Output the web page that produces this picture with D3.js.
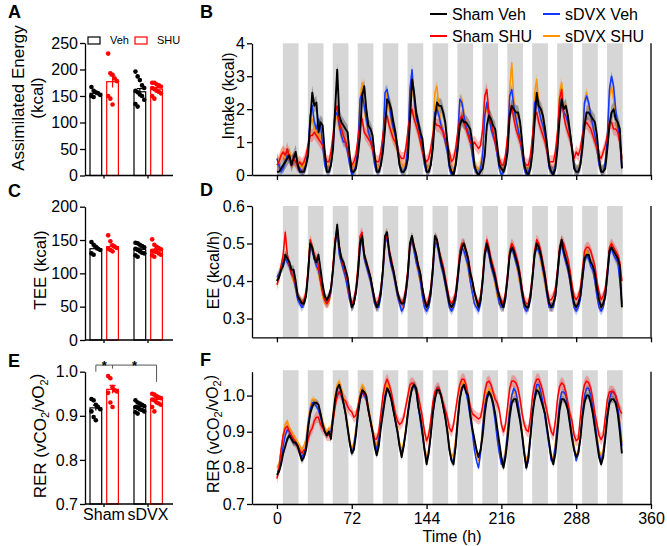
<!DOCTYPE html>
<html><head><meta charset="utf-8">
<script src="https://cdn.jsdelivr.net/npm/d3@7"></script>
<style>body{margin:0;background:#fff}svg{font-family:Arial,"Liberation Sans",Helvetica,sans-serif}</style>
</head><body><svg id="c" width="667" height="546"></svg>
<script>
// ---------- bar chart data ----------
const groups = ["Sham", "sDVX"];
const treatments = ["Veh", "SHU"];
const aeMean = [155, 177, 158, 163];
const aeSem = [3, 11, 6, 3];
const aeShamVeh = [167, 160, 157, 155, 152, 150, 148];
const aeShamSHU = [230, 193, 190, 183, 178, 150, 145, 134];
const aeSdvxVeh = [196, 187, 180, 170, 165, 160, 157, 153, 150, 143, 135, 130];
const aeSdvxSHU = [175, 175, 172, 170, 168, 165, 163, 160, 158, 155, 150, 145];
const teeMean = [137, 140, 136, 135];
const teeSem = [2.5, 2.5, 2, 2];
const teeShamVeh = [147, 143, 140, 137, 135, 130, 128];
const teeShamSHU = [157, 148, 142, 140, 138, 137, 135, 133];
const teeSdvxVeh = [146, 145, 143, 141, 139, 137, 135, 133, 131, 130, 127, 125];
const teeSdvxSHU = [151, 143, 140, 138, 136, 134, 133, 132, 130, 128, 127, 125];
const rerMean = [0.918, 0.960, 0.921, 0.937];
const rerSem = [0.006, 0.009, 0.003, 0.004];
const rerShamVeh = [0.938, 0.935, 0.925, 0.92, 0.915, 0.91, 0.897, 0.89];
const rerShamSHU = [0.99, 0.985, 0.965, 0.958, 0.955, 0.952, 0.93, 0.92];
const rerSdvxVeh = [0.935, 0.93, 0.928, 0.925, 0.922, 0.92, 0.918, 0.915, 0.913, 0.91, 0.908, 0.905];
const rerSdvxSHU = [0.95, 0.948, 0.945, 0.942, 0.94, 0.937, 0.935, 0.93, 0.928, 0.925, 0.92, 0.91];
const aeTicks = [0, 50, 100, 150, 200, 250];
const teeTicks = [0, 50, 100, 150, 200];
const rerTicks = [0.7, 0.8, 0.9, 1.0];

// ---------- time series data (every 2 h, 0..332 h) ----------
const seriesNames = ["Sham Veh", "Sham SHU", "sDVX Veh", "sDVX SHU"];
const seriesColors = ["#000000", "#ff0000", "#1238ff", "#ff9500"];
const hours = d3.range(0, 333, 2);
const darkPeriods = [[5.7,20.8],[29.7,44.8],[53.7,68.8],[77.7,92.8],[101.7,116.8],[125.7,140.8],[149.7,164.8],[173.7,188.8],[197.7,212.8],[221.7,236.8],[245.7,260.8],[269.7,284.8],[293.7,308.8],[317.7,332.8]];
const timeTicks = [0, 72, 144, 216, 288, 360];
const intakeTicks = [0, 1, 2, 3, 4];
const eeTicks = [0.3, 0.4, 0.5, 0.6];
const rerTimeTicks = [0.7, 0.8, 0.9, 1.0];

const intakeShamVeh = [0.1,0.1,0.2,0.3,0.4,0.5,0.6,0.3,0.5,0.7,0.3,0.1, 0.1,0.1,0.3,0.6,1.6,2.5,2.1,2.2,1.3,1.6,1.5,0.7, 0.1,0.1,0.3,0.8,2.0,3.2,1.8,1.6,1.5,1.4,1.3,0.6, 0.1,0.1,0.2,0.6,1.2,2.4,2.7,2.0,1.5,1.4,1.2,0.6, 0.1,0.1,0.3,0.7,1.4,2.3,2.2,2.0,1.6,1.3,0.8,0.3, 0.1,0.1,0.2,0.5,1.6,2.9,2.5,1.9,1.6,1.3,1.1,0.5, 0.1,0.1,0.3,0.8,1.7,2.2,2.1,2.1,1.9,1.6,1.0,0.3, 0.1,0.0,0.3,0.8,1.5,1.7,1.6,1.6,1.5,1.4,1.0,0.3, 0.1,0.0,0.1,0.2,0.6,1.5,1.8,1.7,1.5,1.4,0.9,0.3, 0.2,0.1,0.3,0.7,1.8,2.1,2.0,1.9,1.9,1.6,1.0,0.3, 0.1,0.0,0.2,0.7,1.6,2.5,2.1,2.0,1.8,1.4,0.9,0.3, 0.1,0.0,0.2,0.8,1.7,2.3,2.0,2.1,1.8,1.3,0.8,0.2, 0.1,0.1,0.3,0.8,1.5,1.9,1.9,1.8,1.7,1.6,1.2,0.5, 0.1,0.1,0.2,0.8,1.5,1.9,2.0,1.7,1.6,1.4,0.2];
const intakeShamSHU = [0.3,0.4,0.6,0.7,0.6,0.8,0.5,0.4,0.5,0.4,0.3,0.4, 0.3,0.4,0.6,0.9,1.2,1.2,1.3,1.2,1.1,1.0,0.9,0.6, 0.4,0.4,0.7,1.2,1.9,2.1,1.6,1.4,1.2,1.0,0.8,0.5, 0.3,0.4,0.6,1.1,1.6,1.7,1.3,1.2,1.1,1.0,0.8,0.5, 0.4,0.4,0.7,1.2,1.7,1.8,1.5,1.3,1.1,1.0,0.8,0.6, 0.5,0.5,0.8,1.3,1.8,2.0,1.7,1.5,1.3,1.0,0.7,0.5, 0.4,0.5,0.8,1.2,1.6,1.5,1.5,1.4,1.3,1.1,0.9,0.7, 0.4,0.5,0.8,1.3,1.7,1.8,1.6,1.4,1.2,1.0,0.9,1.0, 0.9,0.8,0.9,1.4,2.4,2.6,1.9,1.6,1.3,1.0,0.7,0.5, 0.3,0.3,0.6,1.2,1.9,2.1,1.7,1.4,1.2,1.0,0.8,0.4, 0.3,0.3,0.6,1.2,1.8,1.9,1.6,1.4,1.2,1.0,0.7,0.4, 0.4,0.4,0.7,1.3,2.3,2.6,1.8,1.5,1.3,1.1,0.8,0.5, 0.7,0.6,0.8,1.2,1.5,1.6,1.5,1.4,1.2,1.0,0.8,0.6, 0.5,0.7,0.9,1.2,1.6,1.6,1.4,1.4,1.3,1.0,0.5];
const intakeSdvxVeh = [0.5,0.3,0.1,0.2,0.4,0.6,0.5,0.4,0.5,0.4,0.3,0.2, 0.1,0.1,0.3,0.8,1.8,2.1,1.6,1.4,1.7,1.5,0.9,0.3, 0.1,0.1,0.3,0.9,1.8,1.9,1.5,1.2,1.0,1.0,0.7,0.3, 0.0,0.1,0.3,0.9,2.3,2.5,2.1,1.7,1.3,1.1,0.8,0.3, 0.1,0.1,0.3,1.0,2.5,2.6,2.2,1.7,1.4,1.2,0.9,0.3, 0.1,0.1,0.3,0.9,2.6,3.2,2.4,1.7,1.5,1.2,0.8,0.3, 0.1,0.1,0.3,0.9,1.9,2.0,1.8,1.5,1.3,1.0,0.7,0.2, 0.0,0.1,0.3,1.2,2.3,2.2,1.8,1.5,1.3,1.1,0.6,0.2, 0.1,0.0,0.2,0.6,1.8,2.2,1.8,1.4,1.2,1.0,0.6,0.2, 0.0,0.1,0.3,1.0,2.4,2.6,2.1,1.7,1.4,1.1,0.6,0.2, 0.0,0.1,0.3,1.0,2.2,2.3,2.0,1.7,1.5,1.2,0.7,0.2, 0.1,0.1,0.3,1.0,2.1,2.2,1.9,1.8,1.6,1.3,0.8,0.3, 0.1,0.1,0.3,1.0,2.2,2.4,2.2,1.8,1.5,1.2,0.8,0.3, 0.1,0.1,0.4,1.2,2.6,3.0,2.7,2.0,1.5,1.0,0.2];
const intakeSdvxSHU = [0.5,0.4,0.6,0.7,0.5,0.6,0.7,0.5,0.4,0.5,0.4,0.3, 0.2,0.3,0.4,0.8,1.5,1.7,1.4,1.3,1.2,1.2,0.9,0.5, 0.3,0.3,0.4,1.0,1.8,1.7,1.4,1.2,1.1,1.0,0.8,0.5, 0.2,0.2,0.4,1.0,2.3,2.8,2.0,1.6,1.3,1.1,0.8,0.4, 0.3,0.2,0.4,1.0,2.2,2.5,2.0,1.6,1.2,1.0,0.8,0.4, 0.3,0.2,0.4,1.0,2.4,2.9,2.1,1.6,1.3,1.1,0.8,0.4, 0.2,0.2,0.4,1.1,2.5,2.7,2.0,1.6,1.3,1.0,0.7,0.3, 0.2,0.1,0.4,1.0,2.2,2.3,1.9,1.6,1.3,1.0,0.7,0.3, 0.2,0.2,0.3,0.8,1.8,2.0,1.8,1.6,1.3,1.1,0.7,0.3, 0.1,0.1,0.4,1.1,2.6,3.4,2.3,1.8,1.5,1.2,0.8,0.3, 0.1,0.1,0.4,1.1,2.5,2.9,2.2,1.8,1.5,1.2,0.8,0.3, 0.1,0.1,0.4,1.1,2.5,2.8,2.1,1.9,1.6,1.3,0.8,0.3, 0.1,0.1,0.4,1.0,2.2,2.5,2.1,1.8,1.5,1.2,0.8,0.3, 0.1,0.1,0.4,1.1,2.4,2.7,2.3,1.8,1.4,1.0,0.3];

const eeShamVeh = [0.40,0.41,0.43,0.44,0.47,0.46,0.45,0.43,0.43,0.40,0.36,0.35, 0.34,0.34,0.36,0.42,0.50,0.49,0.46,0.45,0.47,0.43,0.39,0.36, 0.35,0.36,0.38,0.43,0.50,0.55,0.49,0.46,0.45,0.43,0.41,0.37, 0.33,0.34,0.37,0.42,0.50,0.52,0.47,0.45,0.43,0.41,0.38,0.35, 0.33,0.34,0.37,0.43,0.52,0.53,0.48,0.45,0.43,0.40,0.37,0.35, 0.34,0.34,0.37,0.42,0.50,0.52,0.49,0.47,0.44,0.42,0.38,0.35, 0.33,0.34,0.37,0.43,0.52,0.51,0.48,0.45,0.43,0.40,0.37,0.34, 0.33,0.34,0.36,0.41,0.46,0.49,0.50,0.48,0.46,0.42,0.40,0.37, 0.35,0.33,0.35,0.40,0.47,0.50,0.48,0.45,0.43,0.41,0.38,0.36, 0.34,0.33,0.36,0.41,0.47,0.49,0.48,0.46,0.44,0.41,0.37,0.34, 0.33,0.33,0.36,0.41,0.47,0.50,0.49,0.47,0.44,0.41,0.37,0.34, 0.33,0.34,0.36,0.42,0.48,0.51,0.48,0.46,0.44,0.41,0.37,0.34, 0.33,0.34,0.36,0.41,0.46,0.47,0.47,0.45,0.44,0.42,0.38,0.35, 0.33,0.34,0.36,0.42,0.48,0.49,0.48,0.47,0.46,0.44,0.33];
const eeShamSHU = [0.39,0.41,0.44,0.47,0.53,0.47,0.44,0.42,0.41,0.39,0.36,0.35, 0.34,0.35,0.37,0.43,0.51,0.49,0.47,0.46,0.44,0.40,0.37,0.35, 0.34,0.35,0.38,0.44,0.51,0.54,0.49,0.46,0.44,0.42,0.40,0.36, 0.34,0.35,0.38,0.44,0.52,0.53,0.47,0.45,0.43,0.41,0.38,0.35, 0.34,0.35,0.38,0.43,0.51,0.52,0.48,0.46,0.43,0.40,0.37,0.35, 0.34,0.35,0.38,0.43,0.50,0.51,0.49,0.47,0.44,0.42,0.38,0.35, 0.34,0.35,0.38,0.44,0.51,0.51,0.48,0.46,0.44,0.41,0.38,0.35, 0.34,0.35,0.37,0.42,0.48,0.50,0.50,0.48,0.46,0.43,0.40,0.37, 0.35,0.34,0.36,0.41,0.48,0.51,0.49,0.46,0.44,0.42,0.39,0.36, 0.35,0.34,0.37,0.42,0.48,0.50,0.49,0.47,0.45,0.42,0.38,0.35, 0.34,0.34,0.37,0.42,0.48,0.51,0.50,0.48,0.45,0.42,0.38,0.35, 0.35,0.36,0.38,0.43,0.49,0.51,0.50,0.48,0.46,0.43,0.39,0.36, 0.35,0.36,0.38,0.43,0.48,0.49,0.49,0.48,0.46,0.44,0.40,0.37, 0.35,0.36,0.38,0.43,0.49,0.50,0.49,0.48,0.47,0.45,0.40];
const eeSdvxVeh = [0.41,0.42,0.43,0.45,0.46,0.45,0.44,0.42,0.41,0.38,0.35,0.34, 0.33,0.34,0.36,0.42,0.50,0.48,0.46,0.44,0.43,0.40,0.37,0.35, 0.34,0.35,0.37,0.43,0.50,0.53,0.47,0.45,0.43,0.41,0.38,0.35, 0.33,0.34,0.37,0.42,0.49,0.51,0.46,0.44,0.42,0.40,0.37,0.34, 0.33,0.33,0.36,0.42,0.50,0.52,0.47,0.44,0.42,0.39,0.36,0.34, 0.32,0.33,0.36,0.41,0.49,0.51,0.48,0.45,0.43,0.40,0.36,0.33, 0.32,0.33,0.36,0.42,0.50,0.50,0.47,0.44,0.42,0.39,0.36,0.33, 0.32,0.33,0.35,0.40,0.46,0.49,0.48,0.46,0.44,0.40,0.37,0.34, 0.33,0.32,0.34,0.40,0.47,0.49,0.47,0.44,0.42,0.40,0.37,0.34, 0.33,0.33,0.35,0.41,0.47,0.49,0.47,0.45,0.43,0.40,0.36,0.33, 0.32,0.33,0.35,0.41,0.47,0.49,0.48,0.46,0.43,0.40,0.36,0.33, 0.33,0.33,0.36,0.41,0.47,0.50,0.47,0.45,0.43,0.40,0.36,0.33, 0.32,0.33,0.35,0.40,0.45,0.47,0.46,0.44,0.43,0.40,0.36,0.33, 0.32,0.33,0.36,0.41,0.47,0.49,0.47,0.46,0.45,0.40,0.34];
const eeSdvxSHU = [0.40,0.42,0.44,0.45,0.47,0.46,0.44,0.42,0.40,0.38,0.36,0.35, 0.34,0.34,0.36,0.43,0.51,0.49,0.46,0.44,0.42,0.39,0.36,0.34, 0.34,0.34,0.37,0.44,0.51,0.54,0.48,0.45,0.43,0.41,0.38,0.35, 0.33,0.34,0.37,0.43,0.50,0.52,0.46,0.44,0.42,0.40,0.37,0.34, 0.33,0.34,0.37,0.43,0.51,0.53,0.47,0.44,0.42,0.39,0.36,0.34, 0.33,0.33,0.36,0.42,0.50,0.51,0.48,0.45,0.42,0.40,0.36,0.33, 0.33,0.33,0.36,0.43,0.51,0.51,0.47,0.44,0.42,0.39,0.36,0.33, 0.33,0.33,0.35,0.41,0.47,0.50,0.48,0.46,0.43,0.40,0.37,0.34, 0.34,0.33,0.35,0.41,0.48,0.50,0.47,0.44,0.42,0.39,0.36,0.34, 0.33,0.33,0.35,0.41,0.48,0.50,0.47,0.45,0.42,0.39,0.36,0.33, 0.33,0.33,0.35,0.41,0.48,0.50,0.48,0.45,0.42,0.39,0.36,0.33, 0.33,0.33,0.36,0.42,0.48,0.51,0.48,0.45,0.43,0.40,0.36,0.33, 0.33,0.33,0.36,0.41,0.46,0.48,0.47,0.45,0.43,0.40,0.36,0.33, 0.33,0.33,0.36,0.42,0.48,0.50,0.48,0.46,0.45,0.41,0.33];

const rerShamVehT = [0.78,0.79,0.81,0.84,0.86,0.88,0.89,0.88,0.87,0.87,0.86,0.84, 0.82,0.83,0.85,0.91,0.95,0.97,0.98,0.98,0.975,0.95,0.92,0.90, 0.89,0.90,0.88,0.94,0.99,1.02,1.03,1.01,0.98,0.95,0.91,0.87, 0.84,0.85,0.89,0.95,0.99,1.015,1.01,1.0,0.96,0.93,0.90,0.86, 0.835,0.86,0.91,0.95,0.99,1.02,1.01,0.99,0.96,0.93,0.90,0.86, 0.83,0.86,0.90,0.95,0.99,1.02,1.03,1.02,0.97,0.94,0.90,0.85, 0.81,0.84,0.89,0.95,0.99,1.015,1.015,1.0,0.97,0.94,0.90,0.85, 0.82,0.81,0.86,0.93,0.99,1.02,1.03,1.01,1.0,0.95,0.91,0.88, 0.85,0.83,0.85,0.89,0.95,0.99,1.01,1.0,0.98,0.95,0.91,0.87, 0.83,0.80,0.83,0.88,0.94,0.98,0.99,0.99,0.96,0.93,0.89,0.84, 0.80,0.83,0.89,0.95,0.99,1.015,1.01,0.99,0.97,0.95,0.91,0.87, 0.83,0.81,0.84,0.90,0.96,0.99,0.99,0.98,0.96,0.92,0.88,0.85, 0.83,0.84,0.88,0.94,0.98,1.0,1.0,0.98,0.95,0.91,0.87,0.83, 0.81,0.83,0.88,0.94,0.98,0.99,0.99,0.98,0.95,0.90,0.84];
const rerShamSHUT = [0.77,0.80,0.85,0.89,0.91,0.915,0.90,0.89,0.88,0.87,0.86,0.85, 0.84,0.85,0.85,0.88,0.90,0.91,0.93,0.94,0.94,0.92,0.91,0.90, 0.89,0.89,0.89,0.93,0.97,1.0,1.01,1.0,0.99,0.985,0.97,0.96, 0.955,0.94,0.945,0.97,1.0,1.01,1.01,0.99,0.96,0.93,0.90,0.88, 0.88,0.90,0.95,1.0,1.03,1.045,1.03,1.01,0.98,0.95,0.93,0.92, 0.925,0.94,0.97,1.0,1.03,1.035,1.03,1.02,1.0,0.97,0.94,0.90, 0.875,0.89,0.93,0.98,1.01,1.02,1.02,1.0,0.98,0.96,0.94,0.91, 0.90,0.92,0.96,1.0,1.03,1.045,1.045,1.03,1.0,0.97,0.95,0.945, 0.94,0.935,0.94,0.97,1.01,1.035,1.04,1.03,1.01,0.99,0.98,0.96, 0.92,0.90,0.92,0.97,1.02,1.04,1.04,1.035,1.02,0.99,0.95,0.92, 0.905,0.90,0.94,1.0,1.03,1.045,1.045,1.03,1.01,0.98,0.955,0.925, 0.90,0.89,0.93,0.99,1.025,1.035,1.03,1.01,0.98,0.95,0.93,0.89, 0.875,0.88,0.94,1.0,1.03,1.04,1.035,1.02,0.99,0.95,0.92,0.89, 0.878,0.89,0.94,0.99,1.01,1.012,1.01,1.0,0.98,0.96,0.95];
const rerSdvxVehT = [0.79,0.79,0.82,0.86,0.89,0.905,0.90,0.88,0.87,0.87,0.86,0.84, 0.83,0.84,0.86,0.92,0.96,0.98,0.98,0.97,0.96,0.94,0.92,0.90, 0.89,0.90,0.90,0.94,0.98,1.0,1.01,1.0,0.98,0.95,0.91,0.87, 0.84,0.86,0.90,0.95,0.99,1.01,1.0,0.99,0.96,0.93,0.90,0.87, 0.85,0.88,0.92,0.96,1.0,1.02,1.01,0.99,0.96,0.93,0.90,0.86, 0.84,0.86,0.90,0.95,0.99,1.02,1.03,1.01,0.97,0.93,0.89,0.85, 0.82,0.84,0.89,0.95,0.99,1.02,1.02,1.0,0.97,0.94,0.90,0.85, 0.82,0.82,0.86,0.93,0.99,1.02,1.03,1.01,0.98,0.94,0.90,0.85, 0.82,0.80,0.84,0.91,0.97,1.0,1.01,1.0,0.97,0.93,0.88,0.84, 0.81,0.81,0.84,0.90,0.96,1.0,1.02,1.01,0.98,0.94,0.89,0.84, 0.80,0.82,0.88,0.95,1.0,1.03,1.03,1.01,0.98,0.94,0.90,0.86, 0.82,0.82,0.86,0.92,0.98,1.01,1.01,1.0,0.97,0.93,0.89,0.85, 0.82,0.84,0.88,0.95,1.0,1.02,1.02,1.0,0.97,0.93,0.88,0.84, 0.82,0.84,0.89,0.95,0.99,1.01,1.01,1.0,0.97,0.92,0.86];
const rerSdvxSHUT = [0.80,0.81,0.85,0.89,0.92,0.93,0.91,0.90,0.89,0.88,0.87,0.86, 0.85,0.86,0.88,0.93,0.97,0.99,0.99,0.98,0.97,0.95,0.93,0.91, 0.90,0.91,0.91,0.95,1.0,1.03,1.04,1.02,1.0,0.96,0.92,0.88, 0.85,0.87,0.91,0.96,1.01,1.03,1.02,1.0,0.97,0.94,0.91,0.88, 0.86,0.89,0.93,0.97,1.01,1.03,1.02,1.0,0.97,0.94,0.91,0.87, 0.85,0.87,0.91,0.96,1.0,1.03,1.03,1.01,0.97,0.94,0.90,0.86, 0.83,0.85,0.90,0.96,1.0,1.02,1.02,1.0,0.97,0.94,0.91,0.86, 0.83,0.84,0.88,0.95,1.0,1.03,1.04,1.02,0.99,0.95,0.91,0.87, 0.84,0.82,0.85,0.92,0.98,1.01,1.02,1.01,0.98,0.94,0.89,0.85, 0.82,0.82,0.85,0.91,0.97,1.0,1.01,1.0,0.98,0.94,0.90,0.85, 0.82,0.84,0.89,0.96,1.0,1.02,1.02,1.0,0.98,0.95,0.91,0.87, 0.83,0.83,0.87,0.93,0.98,1.01,1.01,1.0,0.97,0.94,0.90,0.86, 0.83,0.85,0.89,0.95,1.0,1.02,1.02,1.0,0.97,0.93,0.89,0.85, 0.83,0.85,0.90,0.95,0.99,1.01,1.01,1.0,0.97,0.93,0.87];

const semIntake = [0.22, 0.2, 0.16, 0.2];
const semEE = [0.012, 0.014, 0.012, 0.012];
const semRER = [0.01, 0.016, 0.008, 0.008];

// ---------- drawing ----------
const svg = d3.select("#c");
const FONT = 16;

function styleAxis(sel, size) {
  sel.attr("font-family", "Arial, 'Liberation Sans', sans-serif").attr("font-size", size);
  sel.selectAll("path,line").attr("stroke", "#000").attr("stroke-width", 1.3);
  sel.selectAll("text").attr("fill", "#000");
}

function panelLetter(t, x, y) {
  svg.append("text").attr("x", x).attr("y", y).attr("font-size", 18).attr("font-weight", "bold").text(t);
}

function barPanel(cfg) {
  const y = d3.scaleLinear().domain(cfg.domain).range(cfg.range);
  const gx = d3.scaleBand().domain(groups).range([82, 170]);
  const tx = d3.scaleBand().domain(treatments).range([8, 36.4]).paddingInner(0.3);
  const g = svg.append("g");
  const bw = tx.bandwidth();
  cfg.points.forEach((pts, i) => {
    const grp = groups[Math.floor(i / 2)], tr = treatments[i % 2];
    const col = tr === "Veh" ? "#000" : "#ff0000";
    const x0 = gx(grp) + tx(tr);
    const cx = x0 + bw / 2;
    g.append("rect").attr("x", x0).attr("y", y(cfg.means[i])).attr("width", bw)
      .attr("height", y(cfg.domain[0]) - y(cfg.means[i]))
      .attr("fill", "#fff").attr("stroke", col).attr("stroke-width", 1.2);
    g.selectAll(null).data(pts).join("circle")
      .attr("cx", (d, j) => cx + ((j % 5) - 2) * 2.2)
      .attr("cy", d => y(d)).attr("r", 2.3).attr("fill", col);
    const lo = y(cfg.means[i] - cfg.sems[i]), hi = y(cfg.means[i] + cfg.sems[i]);
    g.append("line").attr("x1", cx).attr("x2", cx).attr("y1", lo).attr("y2", hi).attr("stroke", col).attr("stroke-width", 1.2);
    g.append("line").attr("x1", cx - 3).attr("x2", cx + 3).attr("y1", hi).attr("y2", hi).attr("stroke", col).attr("stroke-width", 1.2);
  });
  const ya = g.append("g").attr("transform", "translate(85,0)")
    .call(d3.axisLeft(y).tickValues(cfg.ticks).tickSize(5).tickPadding(2).tickSizeOuter(0).tickFormat(cfg.fmt));
  styleAxis(ya, FONT);
  const xa = g.append("g").attr("transform", `translate(0,${cfg.range[0]})`)
    .call(d3.axisBottom(gx).tickSize(3).tickPadding(2).tickFormat(cfg.xLabels ? (d => d) : ""));
  xa.select(".domain").remove();
  styleAxis(xa, 16);
  g.append("line").attr("x1", 85).attr("x2", 173).attr("y1", cfg.range[0]).attr("y2", cfg.range[0])
    .attr("stroke", "#000").attr("stroke-width", 1.3);
  return {g, y, gx, tx};
}

// Panel A
panelLetter("A", 8, 18);
barPanel({domain: [0, 250], range: [175.5, 43], ticks: aeTicks, fmt: d3.format("d"),
  means: aeMean, sems: aeSem, points: [aeShamVeh, aeShamSHU, aeSdvxVeh, aeSdvxSHU], xLabels: false});
svg.append("text").attr("transform", "translate(24,98) rotate(-90)").attr("text-anchor", "middle").attr("font-size", 17).text("Assimilated Energy");
svg.append("text").attr("transform", "translate(43,98) rotate(-90)").attr("text-anchor", "middle").attr("font-size", 17).text("(kcal)");
// A legend
[["Veh", "#000", 88, 110], ["SHU", "#ff0000", 135, 157]].forEach(([lab, col, bx, tx]) => {
  svg.append("rect").attr("x", bx).attr("y", 37).attr("width", 12).attr("height", 7).attr("fill", "#fff").attr("stroke", col).attr("stroke-width", 1.2);
  svg.append("text").attr("x", tx).attr("y", 44).attr("font-size", 11).text(lab);
});

// Panel C
panelLetter("C", 8, 197);
barPanel({domain: [0, 200], range: [340, 206.7], ticks: teeTicks, fmt: d3.format("d"),
  means: teeMean, sems: teeSem, points: [teeShamVeh, teeShamSHU, teeSdvxVeh, teeSdvxSHU], xLabels: false});
svg.append("text").attr("transform", "translate(46,270) rotate(-90)").attr("text-anchor", "middle").attr("font-size", 17).text("TEE (kcal)");

// Panel E
panelLetter("E", 8, 367);
const E = barPanel({domain: [0.7, 1.0], range: [504, 371.7], ticks: rerTicks, fmt: d3.format(".1f"),
  means: rerMean, sems: rerSem, points: [rerShamVeh, rerShamSHU, rerSdvxVeh, rerSdvxSHU], xLabels: true});
function rerSub(sel) {
  sel.append("tspan").text("RER (vCO");
  sel.append("tspan").attr("font-size", 11).attr("dy", "0.3em").text("2");
  sel.append("tspan").attr("dy", "-0.3em").text("/vO");
  sel.append("tspan").attr("font-size", 11).attr("dy", "0.3em").text("2");
  sel.append("tspan").attr("dy", "-0.3em").text(")");
}
rerSub(svg.append("text").attr("transform", "translate(46,436) rotate(-90)").attr("text-anchor", "middle").attr("font-size", 17));
// significance bracket
{
  const cxOf = (grp, tr) => E.gx(grp) + E.tx(tr) + E.tx.bandwidth() / 2;
  const x1 = cxOf("Sham", "Veh"), xm = cxOf("Sham", "SHU"), x2 = cxOf("sDVX", "SHU");
  const yb = E.y(1.015);
  const p = d3.path();
  p.moveTo(x1, E.y(1.0)); p.lineTo(x1, yb); p.lineTo(x2, yb); p.lineTo(x2, E.y(0.977));
  p.moveTo(xm, yb); p.lineTo(xm, E.y(1.007));
  svg.append("path").attr("d", p.toString()).attr("fill", "none").attr("stroke", "#555").attr("stroke-width", 1);
  [(x1 + xm) / 2, (xm + x2) / 2].forEach(sx =>
    svg.append("text").attr("x", sx).attr("y", yb + 5).attr("text-anchor", "middle").attr("font-size", 13).attr("font-weight", "bold").text("*"));
}

// time panels
const xT = d3.scaleLinear().domain([-24, 360]).range([252, 651]);

function timePanel(cfg) {
  const y = d3.scaleLinear().domain(cfg.domain).range(cfg.range);
  const g = svg.append("g");
  darkPeriods.forEach(p => g.append("rect").attr("x", xT(p[0])).attr("width", xT(p[1]) - xT(p[0]))
    .attr("y", y(cfg.barTop)).attr("height", y(cfg.domain[0]) - y(cfg.barTop)).attr("fill", "#d6d6d6"));
  const order = [3, 2, 1, 0];
  order.forEach(i => {
    const vals = cfg.series[i];
    const area = d3.area().x((d, j) => xT(hours[j])).y0(d => y(Math.max(cfg.domain[0], d - cfg.sem[i]))).y1(d => y(d + cfg.sem[i]));
    g.append("path").attr("d", area(vals)).attr("fill", seriesColors[i]).attr("opacity", 0.28);
  });
  order.forEach(i => {
    const line = d3.line().x((d, j) => xT(hours[j])).y(d => y(d));
    g.append("path").attr("d", line(cfg.series[i])).attr("fill", "none")
      .attr("stroke", seriesColors[i]).attr("stroke-width", i === 0 ? 1.9 : 1.5).attr("stroke-linejoin", "round");
  });
  const ya = g.append("g").attr("transform", "translate(252,0)")
    .call(d3.axisLeft(y).tickValues(cfg.ticks).tickSize(5).tickPadding(2).tickSizeOuter(0).tickFormat(cfg.fmt));
  styleAxis(ya, FONT);
  const xa = g.append("g").attr("transform", `translate(0,${cfg.range[0]})`)
    .call(d3.axisBottom(xT).tickValues(timeTicks).tickSize(5).tickPadding(4).tickSizeOuter(0).tickFormat(cfg.xLabels ? d3.format("d") : ""));
  styleAxis(xa, FONT);
  g.append("line").attr("x1", 651).attr("x2", 651).attr("y1", cfg.range[1]).attr("y2", cfg.range[0]).attr("stroke", "#000").attr("stroke-width", 1.3);
  return y;
}

// Panel B
panelLetter("B", 200, 18);
timePanel({domain: [0, 4], range: [175, 43.3], barTop: 4, ticks: intakeTicks, fmt: d3.format("d"),
  series: [intakeShamVeh, intakeShamSHU, intakeSdvxVeh, intakeSdvxSHU], sem: semIntake, xLabels: false});
svg.append("text").attr("transform", "translate(234,96) rotate(-90)").attr("text-anchor", "middle").attr("font-size", 16).text("Intake (kcal)");
// legend
seriesNames.forEach((n, i) => {
  const lx = i >= 2 ? 543 : 430, ly = i % 2 === 0 ? 14 : 36;
  svg.append("line").attr("x1", lx).attr("x2", lx + 17).attr("y1", ly).attr("y2", ly).attr("stroke", seriesColors[i]).attr("stroke-width", 2);
  svg.append("text").attr("x", lx + 22).attr("y", ly + 5.5).attr("font-size", 16).text(n);
});

// Panel D
panelLetter("D", 200, 196);
timePanel({domain: [0.25, 0.6], range: [337.3, 206], barTop: 0.6, ticks: eeTicks, fmt: d3.format(".1f"),
  series: [eeShamVeh, eeShamSHU, eeSdvxVeh, eeSdvxSHU], sem: semEE, xLabels: false});
svg.append("text").attr("transform", "translate(219,270) rotate(-90)").attr("text-anchor", "middle").attr("font-size", 16).text("EE (kcal/h)");

// Panel F
panelLetter("F", 200, 366);
timePanel({domain: [0.7, 1.066], range: [504, 371.7], barTop: 1.07, ticks: rerTimeTicks, fmt: d3.format(".1f"),
  series: [rerShamVehT, rerShamSHUT, rerSdvxVehT, rerSdvxSHUT], sem: semRER, xLabels: true});
rerSub(svg.append("text").attr("transform", "translate(219,434) rotate(-90)").attr("text-anchor", "middle").attr("font-size", 16));
svg.append("text").attr("x", 452).attr("y", 542).attr("text-anchor", "middle").attr("font-size", 16).text("Time (h)");
</script></body></html>
